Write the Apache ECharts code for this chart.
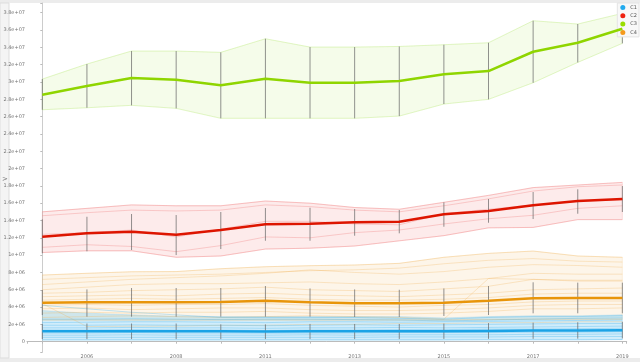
<!DOCTYPE html>
<html><head><meta charset="utf-8">
<script src="https://cdn.jsdelivr.net/npm/echarts@6/dist/echarts.min.js"></script>
<style>html,body{margin:0;padding:0;background:#fff}#c{width:640px;height:362px}</style>
</head><body><div id="c"></div>
<script>
// x categories (14 points)
var years = ['2005','2006','2007','2008','2009','2011','2012','2013','2014','2015','2016','2017','2018','2019'];
var seriesNames = ['C1','C2','C3','C4'];
// values in millions
// C3 (green)
var c3Mean  = [28.52,29.53,30.45,30.25,29.61,30.37,29.91,29.91,30.10,30.88,31.26,33.49,34.53,36.14];
var c3Upper = [30.33,32.07,33.57,33.57,33.42,34.99,34.03,34.03,34.10,34.30,34.53,37.07,36.69,37.92];
var c3Lower = [26.79,27.02,27.30,26.95,25.80,25.80,25.80,25.80,26.06,27.45,27.99,29.91,32.26,34.46];
var c3ErrHi = [30.33,32.07,33.57,33.57,33.42,34.99,34.03,34.03,34.10,34.30,34.53,37.07,36.69,37.92];
var c3ErrLo = [26.79,27.02,27.30,26.95,25.80,25.80,25.80,25.80,26.06,27.45,27.99,29.91,32.26,34.46];
var c3Members = [c3Upper, c3Lower];
// C2 (red)
var c2Mean  = [12.12,12.52,12.70,12.36,12.90,13.56,13.63,13.79,13.86,14.71,15.09,15.75,16.25,16.48];
var c2Upper = [15.00,15.40,15.80,15.70,15.70,16.25,16.00,15.50,15.30,16.10,16.90,17.80,18.10,18.40];
var c2Lower = [10.30,10.50,10.50,9.75,9.90,10.70,10.80,11.05,11.65,12.25,13.15,13.20,14.10,14.10];
var c2ErrHi = [14.13,14.43,14.75,14.63,14.98,15.44,15.47,15.32,15.21,16.10,16.48,17.29,17.60,17.98];
var c2ErrLo = [10.21,10.44,10.59,10.01,10.70,11.66,11.66,12.24,12.52,13.28,13.74,14.17,14.78,14.98];
var c2M2 = [14.55,14.90,15.20,15.10,15.20,15.80,15.60,15.20,15.00,15.70,16.50,17.40,17.90,18.10];
var c2M3 = [12.40,12.60,12.90,12.10,13.00,13.90,13.90,13.60,13.50,14.80,15.30,15.80,16.20,16.40];
var c2M4 = [10.90,11.20,11.00,10.40,11.10,12.10,12.00,12.60,12.90,13.60,14.20,14.60,15.40,15.70];
var c2Members = [c2Upper, c2M2, c2M3, c2M4, c2Lower];
// C4 (orange)
var c4Mean  = [4.50,4.55,4.57,4.57,4.60,4.73,4.55,4.43,4.43,4.50,4.73,5.01,5.05,5.05];
var c4Upper = [7.70,7.90,8.08,8.10,8.43,8.66,8.78,8.86,9.05,9.75,10.20,10.47,9.90,9.75];
var c4Lower = [2.50,2.50,2.50,2.50,2.50,2.50,2.50,2.50,2.50,2.50,2.55,2.60,2.60,2.60];
var c4ErrHi = [5.97,6.04,6.20,6.20,6.20,6.43,6.15,6.04,6.00,6.15,6.43,6.86,6.82,6.82];
var c4ErrLo = [3.08,2.89,2.89,2.89,2.89,2.89,2.89,2.85,2.85,2.97,3.08,3.28,3.28,3.28];
var c4M2  = [7.20,7.40,7.60,7.70,7.80,8.00,8.20,8.30,8.50,9.00,9.40,9.60,9.30,9.20];
var c4M3  = [6.60,6.90,7.20,7.40,7.60,7.90,8.30,8.00,7.80,8.10,8.60,8.90,8.80,8.60];
var c4M4  = [6.00,6.30,6.60,6.70,6.70,6.80,6.90,6.70,6.60,6.90,7.30,7.90,7.80,7.80];
var c4M5  = [5.60,5.70,5.90,6.00,6.10,6.30,6.00,5.90,5.80,6.10,6.40,7.20,7.10,7.10];
var c4M6  = [5.20,5.30,5.40,5.30,5.50,5.60,5.40,5.30,5.20,5.40,5.60,6.00,6.10,6.20];
var c4M7  = [4.80,4.90,5.00,4.90,5.00,5.10,4.90,4.80,4.80,4.90,5.10,5.50,5.60,5.60];
var c4M8  = [4.20,4.30,4.20,4.30,4.30,4.40,4.20,4.10,4.00,4.20,4.30,4.60,4.70,4.70];
var c4M9  = [3.80,3.90,3.70,3.80,3.90,3.90,3.70,3.60,3.60,3.70,3.90,4.20,4.30,4.30];
var c4M10 = [3.30,3.40,3.30,3.40,3.40,3.50,3.30,3.20,3.20,3.30,3.50,3.80,3.80,3.90];
var c4M11 = [4.40,1.75,1.80,1.80,1.90,1.90,2.00,2.00,2.10,2.10,2.20,2.20,2.30,2.30];
var c4M12 = [2.80,2.90,3.00,2.90,2.80,2.90,3.00,2.90,2.80,2.60,7.30,7.20,7.00,7.00];
var c4Members = [c4Upper, c4M2, c4M3, c4M4, c4M5, c4M6, c4M7, c4M8, c4M9, c4M10, c4M11, c4M12, c4Lower];
// C1 (blue)
var c1Mean  = [1.20,1.20,1.22,1.20,1.20,1.18,1.20,1.20,1.22,1.22,1.25,1.28,1.30,1.33];
var c1Upper = [3.60,3.30,3.10,2.95,2.90,2.90,2.90,2.90,2.90,2.75,2.90,3.00,3.00,3.10];
var c1Lower = [0.20,0.20,0.20,0.20,0.20,0.20,0.20,0.20,0.20,0.20,0.22,0.22,0.22,0.25];
var c1ErrHi = [2.04,2.10,2.10,2.10,2.00,2.00,2.05,2.05,2.05,2.10,2.15,2.20,2.25,2.30];
var c1ErrLo = [0.31,0.30,0.30,0.30,0.30,0.30,0.30,0.30,0.30,0.32,0.33,0.33,0.35,0.38];
var c1M1 = [4.20,3.80,3.40,3.10,2.80,2.80,2.80,2.80,2.70,2.60,2.80,2.90,2.90,3.00];
var c1M2 = [2.60,2.60,2.65,2.60,2.55,2.60,2.60,2.55,2.50,2.40,2.50,2.60,2.70,2.75];
var c1M3 = [2.20,2.25,2.30,2.30,2.25,2.20,2.30,2.30,2.25,2.30,2.35,2.40,2.45,2.50];
var c1M4 = [1.90,1.90,1.95,1.90,1.90,1.85,1.90,1.95,1.90,1.95,2.00,2.05,2.10,2.10];
var c1M5 = [1.60,1.60,1.65,1.60,1.60,1.55,1.60,1.60,1.65,1.60,1.65,1.70,1.75,1.80];
var c1M6 = [1.35,1.35,1.40,1.35,1.35,1.30,1.35,1.35,1.40,1.40,1.45,1.45,1.50,1.55];
var c1M7 = [1.00,1.00,1.05,1.00,1.00,0.98,1.00,1.00,1.05,1.05,1.05,1.10,1.10,1.15];
var c1M8 = [0.75,0.75,0.80,0.75,0.75,0.75,0.80,0.75,0.80,0.80,0.80,0.85,0.85,0.90];
var c1M9 = [0.50,0.50,0.50,0.50,0.50,0.50,0.50,0.50,0.55,0.55,0.55,0.60,0.60,0.60];
var c1Members = [c1M1, c1M2, c1M3, c1M4, c1M5, c1M6, c1M7, c1M8, c1M9, c1Lower];

var clusters = [
  {name:'C3', mean:c3Mean, up:c3Upper, lo:c3Lower, eh:c3ErrHi, el:c3ErrLo, members:c3Members,
   line:'#8fd500', fill:'rgba(205,242,150,0.2)', edge:'rgba(180,230,110,0.25)', mem:'rgba(180,230,110,0.3)', legend:'#99dd00'},
  {name:'C2', mean:c2Mean, up:c2Upper, lo:c2Lower, eh:c2ErrHi, el:c2ErrLo, members:c2Members,
   line:'#dd1500', fill:'rgba(245,130,130,0.16)', edge:'rgba(240,130,130,0.3)', mem:'rgba(240,120,120,0.4)', legend:'#ee2211'},
  {name:'C4', mean:c4Mean, up:c4Upper, lo:c4Lower, eh:c4ErrHi, el:c4ErrLo, members:c4Members,
   line:'#e8950a', fill:'rgba(245,195,120,0.16)', edge:'rgba(240,185,100,0.25)', mem:'rgba(240,175,80,0.35)', legend:'#f59a1c'},
  {name:'C1', mean:c1Mean, up:c1Upper, lo:c1Lower, eh:c1ErrHi, el:c1ErrLo, members:c1Members,
   line:'#1aa3e6', fill:'rgba(90,190,240,0.28)', edge:'rgba(90,190,240,0.3)', mem:'rgba(60,175,235,0.4)', legend:'#22aaee'}
];

function pairs(arr){ return arr.map(function(v,i){ return [i, v]; }); }

var series = [];
clusters.forEach(function(c){
  series.push({
    type:'custom', name:c.name+' band', silent:true, z:1,
    data:[[0, c.up[0]]],
    renderItem:function(params, api){
      var pts = [];
      for (var i=0;i<c.up.length;i++) pts.push(api.coord([i, c.up[i]]));
      for (var j=c.lo.length-1;j>=0;j--) pts.push(api.coord([j, c.lo[j]]));
      return {type:'polygon', shape:{points:pts}, style:{fill:c.fill, stroke:c.edge, lineWidth:0.7}};
    }
  });
});
clusters.forEach(function(c){
  c.members.forEach(function(m, k){
    series.push({type:'line', name:c.name+' m'+k, data:pairs(m), symbol:'none', silent:true, z:2,
      lineStyle:{color:c.mem, width:0.8}});
  });
});
clusters.forEach(function(c){
  var ed = c.eh.map(function(h,i){ return [i, c.el[i], h]; });
  series.push({
    type:'custom', name:c.name+' err', silent:true, z:3, data:ed,
    encode:{x:0, y:[1,2]},
    renderItem:function(params, api){
      var a = api.coord([api.value(0), api.value(1)]);
      var b = api.coord([api.value(0), api.value(2)]);
      return {type:'line', shape:{x1:a[0], y1:a[1], x2:b[0], y2:b[1]}, style:{stroke:'rgba(100,100,100,0.7)', lineWidth:1}};
    }
  });
});
clusters.forEach(function(c){
  series.push({type:'line', name:c.name, data:pairs(c.mean), symbol:'none', z:4, color:c.legend,
    lineStyle:{color:c.line, width:2.5}});
});

var chart = echarts.init(document.getElementById('c'), null, {renderer:'canvas'});
chart.setOption({
  animation:false,
  backgroundColor:'#ffffff',
  graphic:[
    {type:'rect', z:-10, shape:{x:0,y:0,width:640,height:3}, style:{fill:'#ececec'}},
    {type:'rect', z:-10, shape:{x:0,y:358,width:640,height:4}, style:{fill:'#ececec'}},
    {type:'rect', z:-10, shape:{x:0,y:3,width:9,height:355}, style:{fill:'#f4f4f4', stroke:'#dddddd', lineWidth:1}},
    {type:'text', left:2, top:176, style:{text:'>', fontSize:7, fill:'#777', fontFamily:'DejaVu Sans'}}
  ],
  legend:{
    data:seriesNames, orient:'vertical', right:1, top:3, icon:'circle', itemWidth:5, itemHeight:5, itemGap:3.3,
    padding:[2,2,2,3], backgroundColor:'#f8f8f8', borderColor:'#e4e4e4', borderWidth:1,
    textStyle:{fontSize:5, color:'#555', fontFamily:'DejaVu Sans', lineHeight:5}
  },
  grid:{left:27, right:13.3, top:3, bottom:9.7, containLabel:false},
  xAxis:{
    type:'value', min:-0.343, max:13.097, splitNumber:14, minInterval:1, maxInterval:1,
    axisLine:{lineStyle:{color:'#bbbbbb'}},
    axisTick:{length:2, lineStyle:{color:'#bbbbbb'}},
    splitLine:{show:false},
    axisLabel:{fontSize:5, color:'#777', margin:2, fontFamily:'DejaVu Sans',
      formatter:function(v){ var r=Math.round(v); if (Math.abs(v-r)>1e-6 || r<0 || r>13 || r%2!==1) return ''; return years[r]; }}
  },
  yAxis:{
    type:'value', min:-1.224, max:39.12, splitNumber:20, minInterval:2, maxInterval:2,
    axisLine:{show:true, lineStyle:{color:'#cccccc'}},
    axisTick:{show:true, length:2, lineStyle:{color:'#bbbbbb'}},
    splitLine:{show:false},
    axisLabel:{fontSize:5, color:'#777', margin:2, fontFamily:'DejaVu Sans',
      formatter:function(v){ if (v < -0.01 || v > 38.5) return ''; var n=Math.round(v*1e6); if (n===0) return '0'; return n.toExponential().replace(/e\+(\d)$/, 'e+0$1'); }}
  },
  series:series
});
</script></body></html>
